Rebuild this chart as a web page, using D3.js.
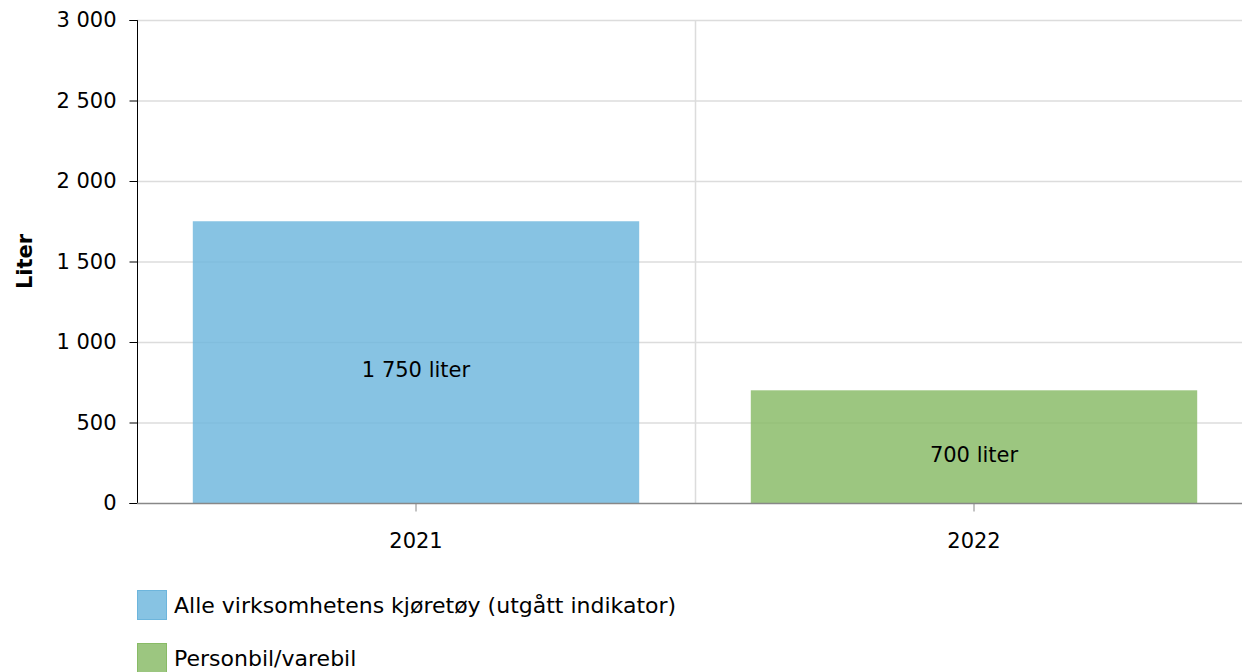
<!DOCTYPE html>
<html>
<head>
<meta charset="utf-8">
<script src="https://cdn.jsdelivr.net/npm/d3@7"></script>
<style>
  body { margin: 0; background: #fff; }
  text { font-family: "DejaVu Sans", Verdana, sans-serif; }
</style>
</head>
<body>
<svg id="chart" width="1242" height="672"></svg>
<script>
let years = ["2021", "2022"];
let values = [1750, 700];
let seriesNames = ["Alle virksomhetens kjøretøy (utgått indikator)", "Personbil/varebil"];
let yTicks = [0, 500, 1000, 1500, 2000, 2500, 3000];

let colors = ["rgba(108,182,221,0.82)", "rgba(134,186,100,0.82)"];
let borders = ["#6db5dc", "#88bb66"];

let svg = d3.select("svg#chart");
let padding = { top: 20, left: 137, bottom: 169 };
let plotRight = 1253;
let plotBottom = 672 - padding.bottom;
let fontSize = "21px";

let locale = d3.formatLocale({ decimal: ",", thousands: " ", grouping: [3], currency: ["", " kr"] });
let fmt = locale.format(",d");

let xScale = d3.scaleBand().domain(years).range([padding.left, plotRight]).paddingInner(0.2).paddingOuter(0.1);
let yScale = d3.scaleLinear().domain([0, 3000]).range([plotBottom, padding.top]);

// horizontal gridlines
svg.append("g")
    .selectAll("line")
    .data(yTicks.filter(d => d > 0))
    .join("line")
    .attr("x1", padding.left)
    .attr("x2", plotRight)
    .attr("y1", d => yScale(d) + 0.5)
    .attr("y2", d => yScale(d) + 0.5)
    .attr("stroke", "#dcdcdc")
    .attr("stroke-width", 1.5);

// vertical gridline between the categories
let step = xScale.step();
svg.append("line")
    .attr("x1", padding.left + step + 0.5)
    .attr("x2", padding.left + step + 0.5)
    .attr("y1", padding.top)
    .attr("y2", plotBottom)
    .attr("stroke", "#dcdcdc")
    .attr("stroke-width", 1.5);

// bars
svg.append("g")
    .selectAll("rect")
    .data(values)
    .join("rect")
    .attr("x", (d, i) => xScale(years[i]))
    .attr("y", d => yScale(d))
    .attr("width", xScale.bandwidth())
    .attr("height", d => plotBottom - yScale(d))
    .attr("fill", (d, i) => colors[i]);

// bar labels
svg.append("g")
    .selectAll("text")
    .data(values)
    .join("text")
    .attr("x", (d, i) => xScale(years[i]) + xScale.bandwidth() / 2)
    .attr("y", d => (yScale(d) + plotBottom) / 2 + 15)
    .attr("text-anchor", "middle")
    .style("font-size", fontSize)
    .attr("fill", "#000")
    .text(d => fmt(d) + " liter");

// y axis
let yAxis = d3.axisLeft(yScale).tickValues(yTicks).tickFormat(fmt).tickSize(8).tickPadding(13);
let yG = svg.append("g")
    .attr("transform", "translate(" + (padding.left + 0.5) + ",0)")
    .call(yAxis);
yG.style("font-size", fontSize);
yG.selectAll("text").attr("fill", "#000").style("font-family", "DejaVu Sans, Verdana, sans-serif");
yG.selectAll(".tick line").attr("stroke", "#000");
yG.select("path.domain").attr("stroke", "#000").attr("d", "M-8," + (padding.top + 0.5) + "H0V" + (plotBottom + 0.5) + "H-8");

// x axis
let xAxis = d3.axisBottom(xScale).tickSize(8);
let xG = svg.append("g")
    .attr("transform", "translate(0," + (plotBottom + 0.5) + ")")
    .call(xAxis);
xG.style("font-size", fontSize);
xG.selectAll("text").attr("fill", "#000").attr("y", 44).attr("dy", null)
    .style("font-family", "DejaVu Sans, Verdana, sans-serif");
xG.selectAll(".tick line").attr("stroke", "#888");
xG.select("path.domain").attr("stroke", "#888").attr("stroke-width", 1.5).attr("d", "M" + padding.left + ",0H" + plotRight);

// y axis title
svg.append("text")
    .attr("transform", "translate(32," + ((padding.top + plotBottom) / 2) + ")rotate(-90)")
    .attr("text-anchor", "middle")
    .style("font-size", fontSize)
    .style("font-weight", "bold")
    .text("Liter");

// legend
let legend = svg.append("g")
    .selectAll("g")
    .data(seriesNames)
    .join("g")
    .attr("transform", (d, i) => "translate(137," + (590 + i * 53) + ")");
legend.append("rect")
    .attr("x", 0.5).attr("y", 0.5)
    .attr("width", 29).attr("height", 29)
    .attr("fill", (d, i) => colors[i])
    .attr("stroke", (d, i) => borders[i]);
legend.append("text")
    .attr("x", 37)
    .attr("y", 23)
    .style("font-size", "22px")
    .text(d => d);
</script>
</body>
</html>
